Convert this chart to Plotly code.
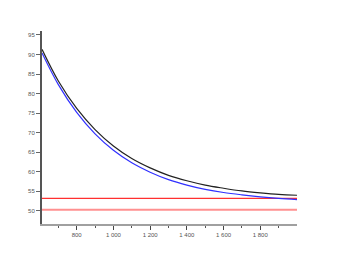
import plotly.graph_objects as go

x_vals = [611, 700, 800, 900, 1000, 1100, 1200, 1300, 1400, 1500, 1600, 1700, 1800, 1900, 2000]
black_vals = [91.3, 83.2, 76.2, 70.8, 66.6, 63.4, 61.0, 59.1, 57.7, 56.6, 55.8, 55.1, 54.6, 54.2, 54.0]
blue_vals = [90.4, 82.3, 75.2, 69.7, 65.5, 62.3, 59.9, 58.0, 56.6, 55.5, 54.7, 54.1, 53.6, 53.2, 52.9]
red_level_1 = 53.2
red_level_2 = 50.3

x_tickvals = [800, 1000, 1200, 1400, 1600, 1800]
x_ticktext = ["800", "1 000", "1 200", "1 400", "1 600", "1 800"]
y_tickvals = [50, 55, 60, 65, 70, 75, 80, 85, 90, 95]

x_range = [611, 2000]
y_range = [46.65, 96.0]

fig = go.Figure()
fig.add_trace(go.Scatter(x=x_range, y=[red_level_2] * 2, mode="lines",
                         line=dict(color="rgba(255,70,70,0.6)", width=1.8), hoverinfo="skip"))
fig.add_trace(go.Scatter(x=x_range, y=[red_level_1] * 2, mode="lines",
                         line=dict(color="#ff3030", width=1.1), hoverinfo="skip"))
fig.add_trace(go.Scatter(x=x_vals, y=blue_vals, mode="lines",
                         line=dict(color="#3030ff", width=1.2, shape="spline")))
fig.add_trace(go.Scatter(x=x_vals, y=black_vals, mode="lines",
                         line=dict(color="#222222", width=1.2, shape="spline")))

fig.update_layout(
    width=331, height=248,
    margin=dict(l=34, r=42, t=23, b=32),
    paper_bgcolor="white", plot_bgcolor="white",
    showlegend=False,
    font=dict(family="Liberation Sans, Arial, sans-serif", size=6, color="#555555"),
)
fig.update_xaxes(
    range=x_range, tickvals=x_tickvals, ticktext=x_ticktext,
    showgrid=False, zeroline=False,
    showline=True, linecolor="#a0a0a0", linewidth=2,
    ticks="outside", ticklen=4, tickwidth=1, tickcolor="#444444",
    minor=dict(tickvals=[700, 900, 1100, 1300, 1500, 1700, 1900], ticks="outside",
               ticklen=2, tickwidth=1, tickcolor="#555555", showgrid=False),
)
fig.update_yaxes(
    range=y_range, tickvals=y_tickvals,
    showgrid=False, zeroline=False,
    showline=True, linecolor="#555555", linewidth=2,
    ticks="outside", ticklen=4, tickwidth=1, tickcolor="#666666",
)

fig.write_html("out.html")
